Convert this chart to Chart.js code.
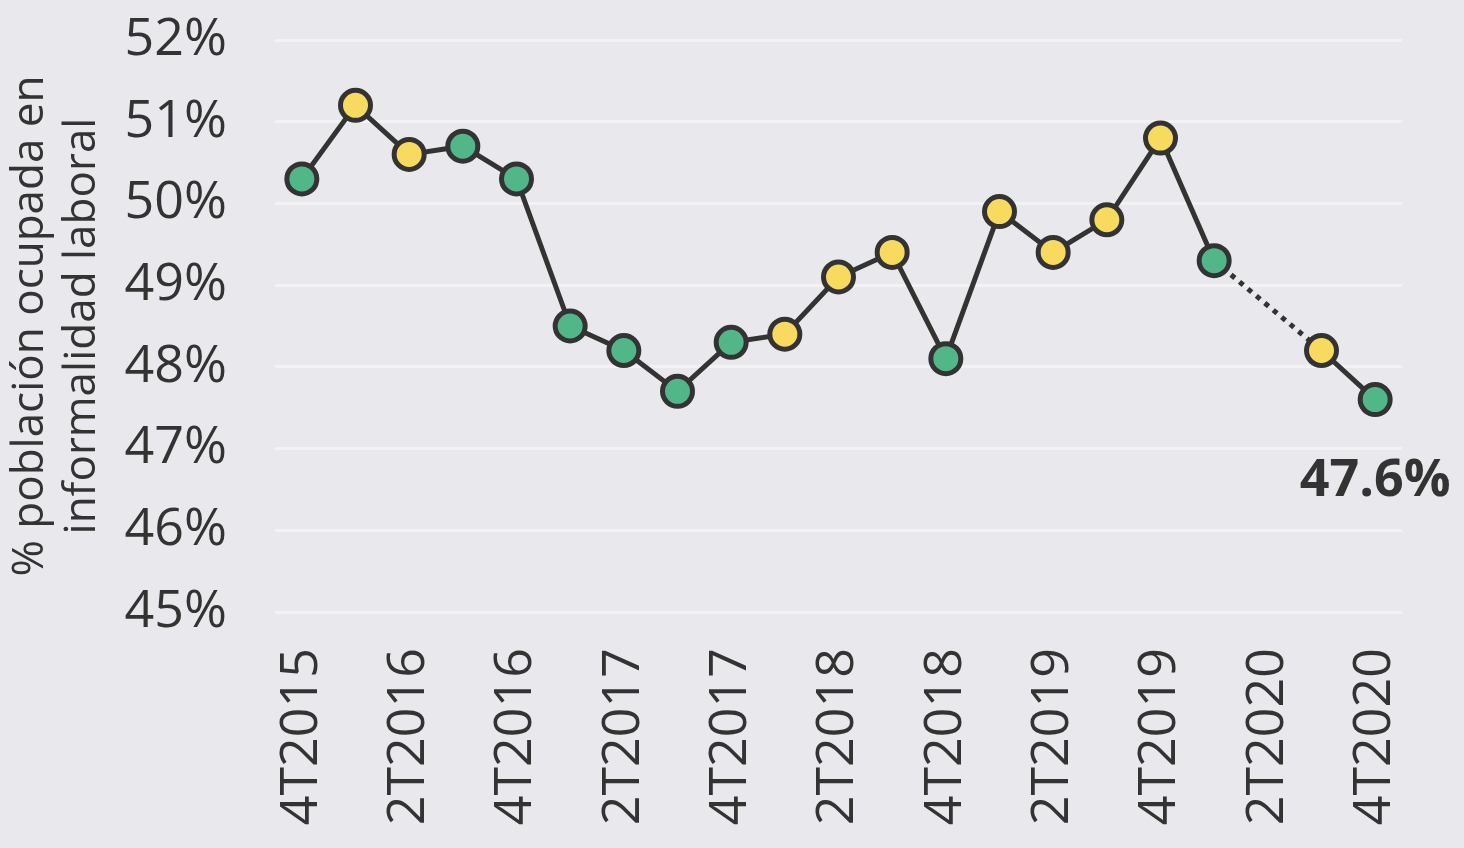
<!DOCTYPE html>
<html lang="es">
<head>
<meta charset="utf-8">
<title>Informalidad laboral</title>
<script src="https://cdn.jsdelivr.net/npm/chart.js@4.4.1/dist/chart.umd.min.js"></script>
<style>
  html, body { margin: 0; padding: 0; background: #e9e8ed; }
  #wrap { width: 1464px; height: 848px; position: relative; }
</style>
</head>
<body>
<div id="wrap"><canvas id="myChart"></canvas></div>
<script>
'use strict'

// Data:
const quarters = [
  '4T2015', '1T2016', '2T2016', '3T2016', '4T2016', '1T2017', '2T2017',
  '3T2017', '4T2017', '1T2018', '2T2018', '3T2018', '4T2018', '1T2019',
  '2T2019', '3T2019', '4T2019', '1T2020', '2T2020', '3T2020', '4T2020'
];
// 2T2020 has no value (dotted line spans it)
const informality = [
  50.3, 51.2, 50.6, 50.7, 50.3, 48.5, 48.2, 47.7, 48.3, 48.4, 49.1,
  49.4, 48.1, 49.9, 49.4, 49.8, 50.8, 49.3, null, 48.2, 47.6
];
// g = green point, y = yellow point
const pointGroup = [
  'g', 'y', 'y', 'g', 'g', 'g', 'g', 'g', 'g', 'y', 'y',
  'y', 'g', 'y', 'y', 'y', 'y', 'g', 'g', 'y', 'g'
];
const yTicks = [45, 46, 47, 48, 49, 50, 51, 52];
const yTitle = ['% población ocupada en', 'informalidad laboral'];

const textColor = '#333333';
const groupColors = { g: '#52b788', y: '#f8da5e' };
const fontFamily = '"Open Sans", "Noto Sans", sans-serif';

// label under the last point
const lastValueLabel = {
  id: 'lastValueLabel',
  afterDatasetsDraw(chart) {
    const meta = chart.getDatasetMeta(0);
    const last = informality.length - 1;
    const pt = meta.data[last];
    const ctx = chart.ctx;
    ctx.save();
    ctx.font = 'bold 52px ' + fontFamily;
    ctx.fillStyle = textColor;
    ctx.textAlign = 'center';
    ctx.textBaseline = 'alphabetic';
    ctx.fillText(informality[last].toFixed(1) + '%', pt.x, pt.y + 96);
    ctx.restore();
  }
};

// dotted where the line jumps over a missing quarter
function gapDash(ctx) {
  if (informality[ctx.p0DataIndex] == null || ctx.p1DataIndex - ctx.p0DataIndex > 1) {
    return [5, 6];
  }
  return undefined;
}

function renderChart() {
  const data = {
    labels: quarters,
    datasets: [{
      data: informality,
      borderColor: textColor,
      borderWidth: 5,
      pointRadius: 15,
      pointHoverRadius: 15,
      pointBorderWidth: 5,
      pointBorderColor: textColor,
      pointBackgroundColor: pointGroup.map(g => groupColors[g]),
      spanGaps: true,
      segment: { borderDash: gapDash }
    }]
  };

  const config = {
    type: 'line',
    data: data,
    options: {
      responsive: true,
      maintainAspectRatio: false,
      animation: false,
      layout: { padding: { top: 40, right: 62, bottom: 0, left: 0 } },
      plugins: {
        legend: { display: false },
        tooltip: { enabled: false }
      },
      scales: {
        x: {
          offset: true,
          afterFit: scale => {
            scale.height = 236;
            scale.paddingLeft = 0;
            scale.paddingRight = 0;
          },
          grid: { display: false, drawTicks: false },
          border: { display: false },
          ticks: {
            autoSkip: false,
            minRotation: 90,
            maxRotation: 90,
            padding: 36,
            color: textColor,
            font: { family: fontFamily, size: 52 },
            callback: (val, i) => (i % 2 === 0 ? quarters[i] : '')
          }
        },
        y: {
          min: yTicks[0],
          max: yTicks[yTicks.length - 1],
          afterBuildTicks: scale => { scale.ticks = yTicks.map(v => ({ value: v })); },
          afterFit: scale => {
            scale.width = 275;
            scale.paddingTop = 0;
            scale.paddingBottom = 0;
          },
          grid: { color: '#f3f3f5', lineWidth: 3, drawTicks: false },
          border: { display: false },
          ticks: {
            padding: 48,
            color: textColor,
            font: { family: fontFamily, size: 52 },
            callback: v => v + '%'
          },
          title: {
            display: true,
            text: yTitle,
            color: textColor,
            padding: { top: 5, bottom: 0 },
            font: { family: fontFamily, size: 44, lineHeight: 1.18 }
          }
        }
      }
    },
    plugins: [lastValueLabel]
  };
  let canvasChart = document.getElementById('myChart');
  const myChart = new Chart(canvasChart, config);
}

renderChart();
</script>
</body>
</html>
